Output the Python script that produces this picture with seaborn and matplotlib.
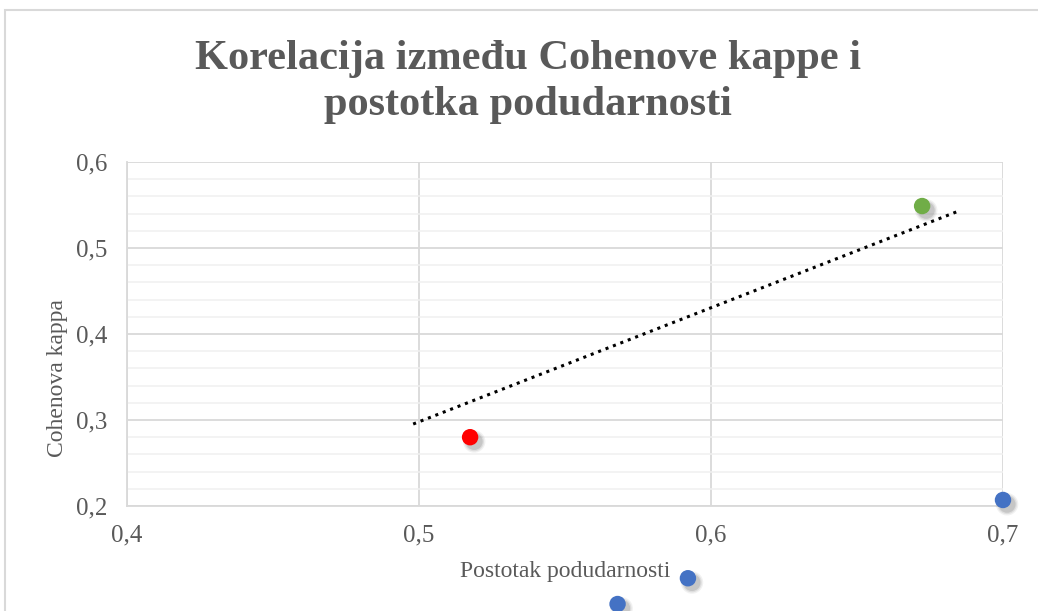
import pandas as pd
import seaborn as sns
import matplotlib.pyplot as plt
from matplotlib.patches import Rectangle
from matplotlib.ticker import MultipleLocator, FuncFormatter

# data
postotak = [0.5175, 0.6723, 0.700, 0.5921, 0.568]
kappa = [0.280, 0.5488, 0.207, 0.116, 0.086]
grupa = ["a", "b", "c", "c", "c"]
boje = {"a": "#FF0000", "b": "#70AD47", "c": "#4472C4"}

# trendline end points
trend_x = [0.498, 0.684]
trend_y = [0.2953, 0.5419]

x_ticks = [0.4, 0.5, 0.6, 0.7]
y_ticks = [0.2, 0.3, 0.4, 0.5, 0.6]

sns.set_theme(style="white")
plt.rcParams["font.family"] = ["Liberation Serif", "DejaVu Serif"]

df = pd.DataFrame({"x": postotak, "y": kappa, "g": grupa})
trend = pd.DataFrame({"x": trend_x, "y": trend_y})

fig = plt.figure(figsize=(10.38, 6.11), dpi=100)
ax = fig.add_axes([127 / 1038, 1 - 506 / 611, 876 / 1038, 344 / 611])

# chart border
fig.patches.append(Rectangle((5 / 1038, -0.1), 1.2, 1 - 10 / 611 + 0.1,
                             transform=fig.transFigure, fill=False,
                             edgecolor="#D9D9D9", linewidth=1.5, zorder=0))

ax.set_xlim(0.4, 0.7)
ax.set_ylim(0.2, 0.6)
ax.set_xticks(x_ticks)
ax.set_yticks(y_ticks)
ax.yaxis.set_minor_locator(MultipleLocator(0.02))
fmt = FuncFormatter(lambda v, p: f"{v:.1f}".replace(".", ","))
ax.xaxis.set_major_formatter(fmt)
ax.yaxis.set_major_formatter(fmt)
ax.grid(which="major", color="#D9D9D9", linewidth=1.3)
ax.grid(which="minor", axis="y", color="#F0F0F0", linewidth=1.1)
ax.set_axisbelow(True)
for s in ["top", "right"]:
    ax.spines[s].set_visible(False)
for s in ["left", "bottom"]:
    ax.spines[s].set_color("#D9D9D9")
    ax.spines[s].set_linewidth(1.3)
ax.tick_params(length=0, labelsize=18, labelcolor="#595959")
ax.tick_params(axis="x", pad=13)
ax.tick_params(axis="y", pad=14)

# soft shadows
sh = df.copy()
sh["x"] = sh["x"] + 0.0014
sh["y"] = sh["y"] - 0.005
for size, a in [(260, 0.07), (200, 0.1), (150, 0.15)]:
    sns.scatterplot(data=sh, x="x", y="y", color="#404040", alpha=a, s=size,
                    edgecolor="none", legend=False, ax=ax, clip_on=False, zorder=3)

sns.lineplot(data=trend, x="x", y="y", color="black", linewidth=2.2,
             linestyle=(0, (1, 1.6)), ax=ax, zorder=4)

sns.scatterplot(data=df, x="x", y="y", hue="g", palette=boje, s=140,
                edgecolor="none", legend=False, ax=ax, clip_on=False, zorder=5)

ax.set_xlabel("Postotak podudarnosti", fontsize=17, color="#595959")
ax.xaxis.set_label_coords(0.5, -(561 - 506) / 344)
ax.set_ylabel("Cohenova kappa", fontsize=17, color="#595959")
ax.yaxis.set_label_coords(-(127 - 68) / 876, (506 - 378) / 344)

fig.text(528 / 1038, 1 - 82 / 611, "Korelacija između Cohenove kappe i\npostotka podudarnosti",
         ha="center", va="center", fontsize=30.5, fontweight="bold",
         color="#595959", linespacing=1.3)

fig.savefig("out.png", dpi=100)
